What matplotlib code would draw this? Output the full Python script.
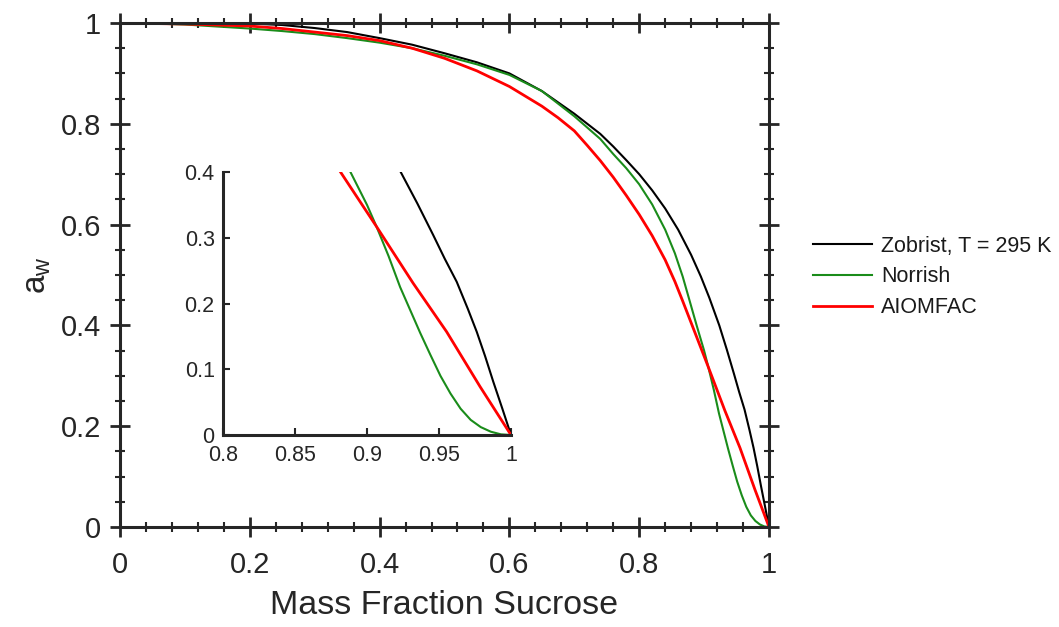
import matplotlib
matplotlib.use("Agg")
import matplotlib.pyplot as plt
from matplotlib.ticker import MultipleLocator

plt.rcParams['font.family'] = ['Liberation Sans', 'DejaVu Sans']
plt.rcParams['mathtext.default'] = 'regular'

# ---- data ----
zob_x = [0.02, 0.05, 0.1, 0.15, 0.2, 0.25, 0.3, 0.35, 0.4, 0.45, 0.5, 0.55, 0.6, 0.65, 0.7,
         0.74, 0.76, 0.78, 0.8, 0.82, 0.84, 0.86, 0.88, 0.895, 0.908, 0.9234, 0.935, 0.946,
         0.954, 0.9623, 0.97, 0.9762, 0.982, 0.9877, 0.994, 1.0]
zob_y = [1.0, 1.0, 1.0, 1.0, 0.999, 0.996, 0.99, 0.982, 0.97, 0.957, 0.94, 0.922, 0.90, 0.865, 0.82,
         0.78, 0.755, 0.728, 0.70, 0.668, 0.632, 0.59, 0.54, 0.497, 0.455, 0.40, 0.352, 0.304,
         0.268, 0.233, 0.192, 0.157, 0.12, 0.081, 0.04, 0.0]

nor_x = [0.0, 0.05, 0.1, 0.15, 0.2, 0.25, 0.3, 0.35, 0.4, 0.45, 0.5, 0.55, 0.6, 0.65, 0.7,
         0.74, 0.76, 0.78, 0.8, 0.82, 0.84, 0.855, 0.867, 0.877, 0.8885, 0.9, 0.9066, 0.915,
         0.923, 0.93, 0.937, 0.944, 0.951, 0.958, 0.965, 0.972, 0.979, 0.986, 0.993, 1.0]
nor_y = [1.0, 0.999, 0.997, 0.993, 0.989, 0.984, 0.978, 0.97, 0.961, 0.95, 0.935, 0.918, 0.897, 0.865, 0.815,
         0.77, 0.74, 0.712, 0.68, 0.64, 0.59, 0.543, 0.497, 0.452, 0.40, 0.35, 0.317, 0.272,
         0.225, 0.19, 0.155, 0.122, 0.09, 0.063, 0.04, 0.023, 0.012, 0.005, 0.001, 0.0]

aio_x = [0.018, 0.05, 0.1, 0.15, 0.2, 0.25, 0.3, 0.35, 0.4, 0.45, 0.5, 0.55, 0.6, 0.65, 0.675,
         0.7, 0.72, 0.74, 0.76, 0.78, 0.8, 0.82, 0.84, 0.855, 0.8665, 0.8816, 0.9066, 0.932,
         0.9553, 0.9785, 1.0]
aio_y = [1.0, 0.999, 0.998, 0.996, 0.994, 0.989, 0.982, 0.975, 0.965, 0.95, 0.93, 0.905, 0.874, 0.835, 0.812,
         0.786, 0.757, 0.727, 0.694, 0.658, 0.62, 0.578, 0.53, 0.487, 0.45, 0.40, 0.317, 0.231,
         0.157, 0.0736, 0.0]

labels = ['Zobrist, T = 295 K', 'Norrish', 'AIOMFAC']
colors = ['black', '#1a8c1a', '#ff0000']
widths = [1.5, 1.5, 2.0]

main_xticks = [0, 0.2, 0.4, 0.6, 0.8, 1]
main_yticks = [0, 0.2, 0.4, 0.6, 0.8, 1]
inset_xticks = [0.8, 0.85, 0.9, 0.95, 1]
inset_yticks = [0, 0.1, 0.2, 0.3, 0.4]

axcol = '#262626'

fig = plt.figure(figsize=(10.59, 6.27), dpi=100)
ax = fig.add_axes([120/1059, 1-527/627, (769-120)/1059, (527-23)/627])

series = [(zob_x, zob_y), (nor_x, nor_y), (aio_x, aio_y)]
for (xs, ys), lab, c, w in zip(series, labels, colors, widths):
    ax.plot(xs, ys, color=c, lw=w, label=lab, solid_joinstyle='round')

ax.set_xlim(0, 1)
ax.set_ylim(0, 1)
ax.set_xticks(main_xticks)
ax.set_yticks(main_yticks)
ax.set_xticklabels(['0', '0.2', '0.4', '0.6', '0.8', '1'])
ax.set_yticklabels(['0', '0.2', '0.4', '0.6', '0.8', '1'])
ax.xaxis.set_minor_locator(MultipleLocator(0.04))
ax.yaxis.set_minor_locator(MultipleLocator(0.05))
ax.tick_params(which='both', direction='inout', top=True, right=True, color=axcol,
               labelcolor=axcol, labelsize=21)
ax.tick_params(which='major', length=15, width=2)
ax.tick_params(which='minor', length=7, width=1.5)
ax.tick_params(axis='x', pad=10)
ax.tick_params(axis='y', pad=6)
for s in ax.spines.values():
    s.set_linewidth(2.2)
    s.set_color(axcol)
ax.set_xlabel('Mass Fraction Sucrose', fontsize=24.5, color=axcol, labelpad=8)
ax.set_ylabel('$a_w$', fontsize=24, color=axcol, labelpad=6)

leg = ax.legend(loc='center left', bbox_to_anchor=(813/1059, 1-277/627),
                bbox_transform=fig.transFigure, frameon=False, fontsize=15.5,
                handlelength=2.75, handletextpad=0.4, borderpad=0, borderaxespad=0,
                labelspacing=0.45)
for t in leg.get_texts():
    t.set_color('#1a1a1a')

# ---- inset ----
ins = fig.add_axes([223/1059, 1-435/627, (511-223)/1059, (435-172)/627])
for (xs, ys), c, w in zip(series, colors, widths):
    ins.plot(xs, ys, color=c, lw=w, solid_joinstyle='round')
ins.set_xlim(0.8, 1)
ins.set_ylim(0, 0.4)
ins.set_xticks(inset_xticks)
ins.set_yticks(inset_yticks)
ins.set_xticklabels(['0.8', '0.85', '0.9', '0.95', '1'])
ins.set_yticklabels(['0', '0.1', '0.2', '0.3', '0.4'])
ins.spines['top'].set_visible(False)
ins.spines['right'].set_visible(False)
for s in ['left', 'bottom']:
    ins.spines[s].set_linewidth(2.2)
    ins.spines[s].set_color(axcol)
ins.tick_params(direction='in', length=5, width=1.5, color=axcol, labelcolor=axcol,
                labelsize=15.5)
ins.tick_params(axis='x', pad=7)
ins.tick_params(axis='y', pad=6)

fig.savefig('out.png', dpi=100)
